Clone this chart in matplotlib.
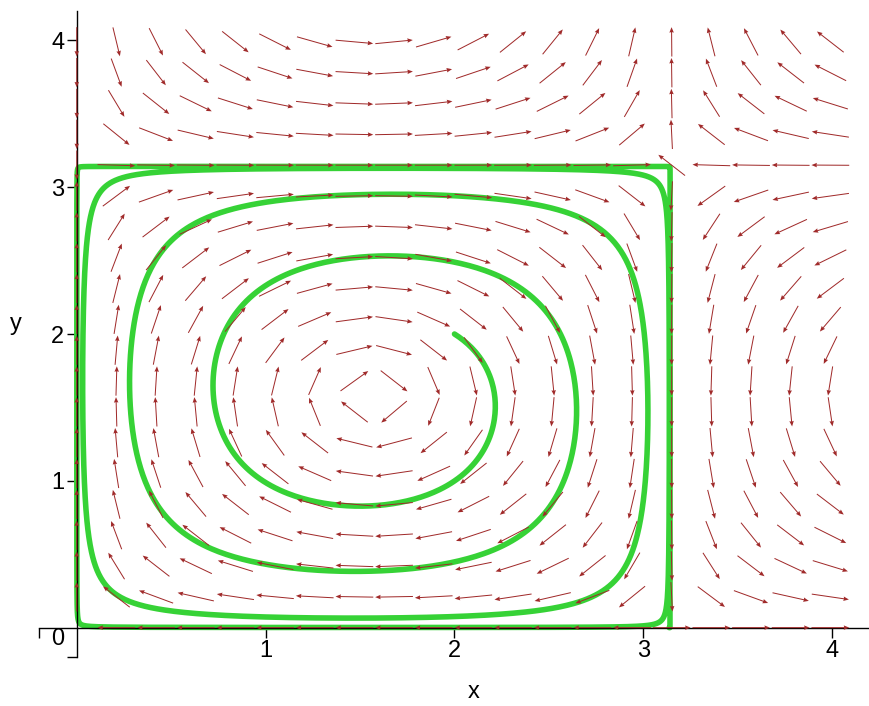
import numpy as np
import matplotlib
matplotlib.use("Agg")
import matplotlib.pyplot as plt

# System: x' = -sin(x) cos(y),  y' = cos(x) sin(y)
def field(x, y):
    return -np.sin(x) * np.cos(y), np.cos(x) * np.sin(y)

# Direction-field grid (20 x 20 points, spacing 0.21)
grid_x = np.arange(20) * 0.21
grid_y = np.arange(20) * 0.21
arrow_len = 0.2

# Trajectory from the initial point; the forward-Euler solution with step h
# follows the modified flow f - (h/2) J f, integrated here with fine RK4 steps
x0, y0 = 2.0, 2.0
euler_h = 0.21
t_end = 90.0
dt = 0.02

x_ticks = [1, 2, 3, 4]
y_ticks = [1, 2, 3, 4]


def euler_flow(p):
    x, y = p
    u, v = field(x, y)
    c = 0.5 * euler_h
    return np.array([u - c * np.sin(x) * np.cos(x),
                     v - c * np.sin(y) * np.cos(y)])


fig = plt.figure(figsize=(8.7, 7.06), dpi=100)
ax = fig.add_axes([0.0448, 0.0694, 0.9552, 0.915])
ax.set_xlim(-0.2, 4.2)
ax.set_ylim(-0.2, 4.2)

# direction field arrows, normalised to a fixed length
GX, GY = np.meshgrid(grid_x, grid_y)
U, V = field(GX, GY)
mag = np.hypot(U, V)
mag[mag == 0] = np.nan
U = U / mag * arrow_len
V = V / mag * arrow_len
ax.quiver(GX, GY, U, V, angles='xy', scale_units='xy', scale=1,
          pivot='middle', color='#a02a2a', width=0.0012,
          headwidth=4.5, headlength=5.5, headaxislength=5, zorder=3)

# trajectory
p = np.array([x0, y0])
path = [p.copy()]
for _ in range(int(t_end / dt)):
    k1 = euler_flow(p)
    k2 = euler_flow(p + 0.5 * dt * k1)
    k3 = euler_flow(p + 0.5 * dt * k2)
    k4 = euler_flow(p + dt * k3)
    p = p + dt / 6.0 * (k1 + 2 * k2 + 2 * k3 + k4)
    path.append(p.copy())
path = np.array(path)
ax.plot(path[:, 0], path[:, 1], color='#36d236', lw=4.0,
        solid_capstyle='round', solid_joinstyle='round', zorder=2)

# Axes through the origin
for side in ('top', 'right'):
    ax.spines[side].set_visible(False)
ax.spines['left'].set_position(('data', 0))
ax.spines['bottom'].set_position(('data', 0))
for side in ('left', 'bottom'):
    ax.spines[side].set_linewidth(1.0)

font = dict(family=['Liberation Sans', 'DejaVu Sans'], size=17)
ax.set_xticks([-0.2] + x_ticks)
ax.set_xticklabels([''] + [str(t) for t in x_ticks], fontdict=font)
ax.set_yticks([-0.2] + y_ticks)
ax.set_yticklabels([''] + [str(t) for t in y_ticks], fontdict=font)
ax.tick_params(direction='out', length=7, width=1.0, pad=2)
ax.text(-0.1, -0.08, '0', ha='center', va='center', clip_on=False, **font)
ax.text(2.1, -0.44, 'x', ha='center', va='center', clip_on=False, **font)
ax.text(-0.32, 2.07, 'y', ha='center', va='center', clip_on=False, **font)

fig.savefig('out.png', dpi=100)
